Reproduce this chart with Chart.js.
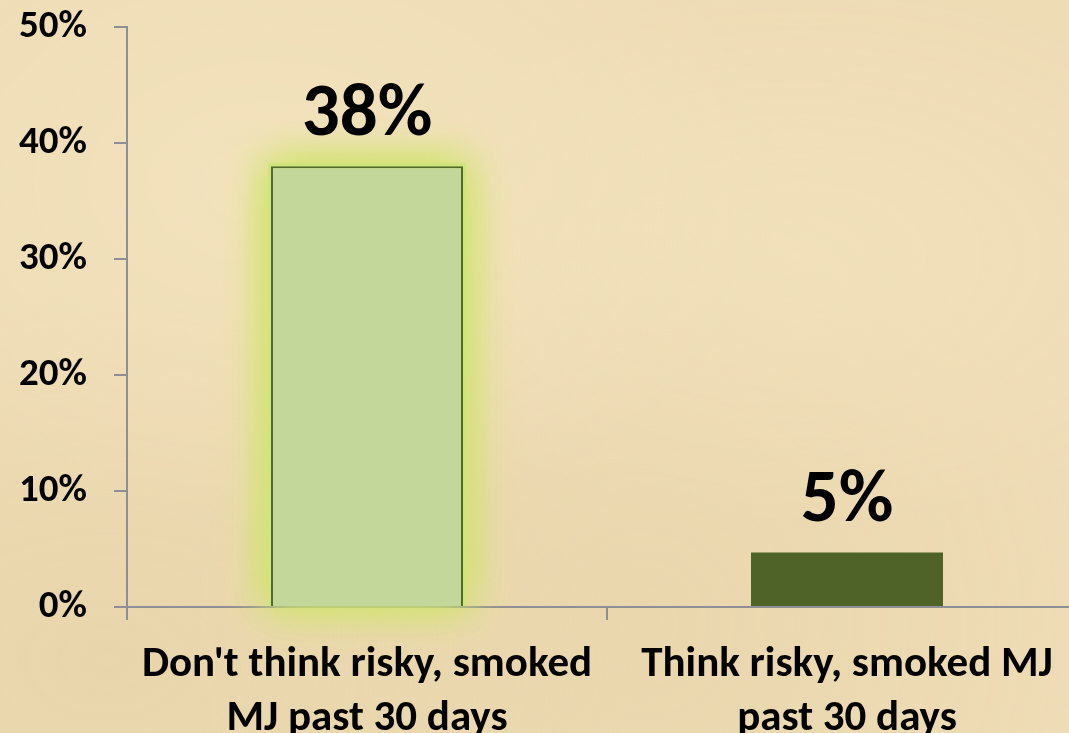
<!DOCTYPE html>
<html>
<head>
<meta charset="utf-8">
<script src="https://cdn.jsdelivr.net/npm/chart.js@4/dist/chart.umd.min.js"></script>
<style>
  html, body { margin:0; padding:0; overflow:hidden; width:1069px; height:733px; }
  body {
    background-color:#eedcb5;
    background-image:
      radial-gradient(ellipse at 25% 25%, rgba(246,232,196,0.5), rgba(246,232,196,0) 45%),
      radial-gradient(ellipse at 75% 35%, rgba(245,230,192,0.45), rgba(245,230,192,0) 40%),
      radial-gradient(ellipse at 60% 85%, rgba(228,208,165,0.45), rgba(228,208,165,0) 50%),
      radial-gradient(ellipse at 10% 90%, rgba(226,205,160,0.45), rgba(226,205,160,0) 40%);
  }
  #wrap { position:absolute; left:0; top:0; width:1090px; height:733px; }
</style>
</head>
<body>
<div id="wrap"><canvas id="c" width="1090" height="733"></canvas></div>
<script>
const categories = [["Don't think risky, smoked", "MJ past 30 days"], ["Think risky, smoked MJ", "past 30 days"]];
const values = [38, 4.7];
const valueLabels = ["38%", "5%"];
const tickLabels = ["0%", "10%", "20%", "30%", "40%", "50%"];

const FONT = "Carlito, Calibri, Lato, 'Open Sans', sans-serif";

const glowPlugin = {
  id: 'glow',
  beforeDatasetsDraw(chart) {
    const meta = chart.getDatasetMeta(0);
    const el = meta.data[0];
    if (!el) return;
    const ctx = chart.ctx;
    const w = el.width;
    ctx.save();
    ctx.shadowColor = 'rgba(206,228,105,1)';
    ctx.shadowBlur = 40;
    ctx.fillStyle = 'rgba(208,228,125,1)';
    for (let i = 0; i < 2; i++) {
      ctx.fillRect(el.x - w / 2 - 3, el.y - 3, w + 6, el.base - el.y + 3);
    }
    ctx.restore();
  }
};

const labelPlugin = {
  id: 'vlabels',
  afterDatasetsDraw(chart) {
    const meta = chart.getDatasetMeta(0);
    const ctx = chart.ctx;
    ctx.save();
    ctx.fillStyle = '#000';
    ctx.font = "bold 75px " + FONT;
    ctx.textAlign = 'center';
    ctx.textBaseline = 'alphabetic';
    meta.data.forEach((el, i) => {
      ctx.fillText(valueLabels[i], el.x, el.y - 31);
    });
    ctx.restore();
  }
};

new Chart(document.getElementById('c'), {
  type: 'bar',
  data: {
    labels: categories,
    datasets: [{
      data: values,
      backgroundColor: ['#c4d79b', '#4f6228'],
      borderColor: ['#546a2c', '#4f6228'],
      borderWidth: [2, 0],
      barPercentage: 0.4,
      categoryPercentage: 1.0
    }]
  },
  options: {
    responsive: false,
    animation: false,
    devicePixelRatio: 1,
    layout: { padding: { top: 27, right: 3, left: 0, bottom: 0 } },
    plugins: { legend: { display: false }, tooltip: { enabled: false } },
    scales: {
      x: {
        grid: { display: true, drawOnChartArea: false, drawTicks: true, tickLength: 13, color: '#8e8e96', lineWidth: 2, offset: true },
        border: { display: true, color: '#8e8e96', width: 2 },
        ticks: {
          color: '#000',
          font: { family: FONT, weight: 'bold', size: 43, lineHeight: 1.26 },
          padding: 18,
          maxRotation: 0,
          autoSkip: false
        },
        afterFit(scale) { scale.height = 126; }
      },
      y: {
        min: 0, max: 50,
        grid: { display: true, drawOnChartArea: false, drawTicks: true, tickLength: 13, color: '#8e8e96', lineWidth: 2 },
        border: { display: true, color: '#8e8e96', width: 2 },
        ticks: {
          stepSize: 10,
          color: '#000',
          padding: 27,
          font: { family: FONT, weight: 'bold', size: 39 },
          callback: (v, i) => tickLabels[i]
        },
        afterFit(scale) { scale.width = 127; scale.paddingTop = 0; scale.paddingBottom = 0; }
      }
    }
  },
  plugins: [glowPlugin, labelPlugin]
});
</script>
</body>
</html>
